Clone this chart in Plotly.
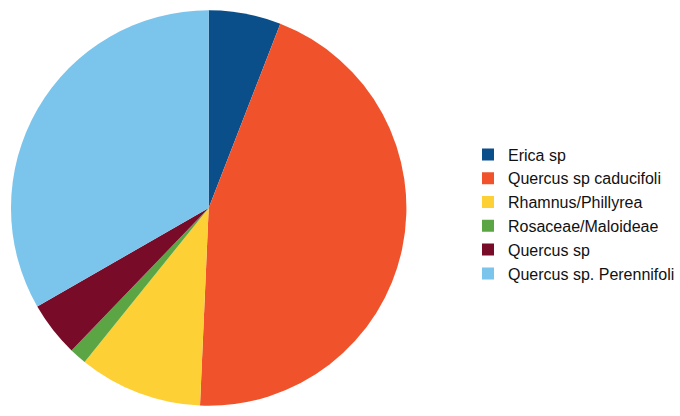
import plotly.graph_objects as go

# Share of each taxon (percent)
taxa = [
    "Erica sp",
    "Quercus sp caducifoli",
    "Rhamnus/Phillyrea",
    "Rosaceae/Maloideae",
    "Quercus sp",
    "Quercus sp. Perennifoli",
]
shares = [5.9, 44.8, 10.1, 1.4, 4.5, 33.3]
slice_colors = ["#0A4F8A", "#F0532C", "#FDD036", "#5BA545", "#780C28", "#7BC4EC"]

W, H = 680, 416
cx, cy, r = 209, 208, 198

fig = go.Figure(
    go.Pie(
        labels=taxa,
        values=shares,
        sort=False,
        direction="clockwise",
        rotation=0,
        textinfo="none",
        hoverinfo="label+percent",
        marker=dict(colors=slice_colors, line=dict(width=0)),
        domain=dict(
            x=[(cx - r) / W, (cx + r) / W],
            y=[(H - cy - r) / H, (H - cy + r) / H],
        ),
    )
)

fig.update_layout(
    width=W,
    height=H,
    margin=dict(l=0, r=0, t=0, b=0),
    paper_bgcolor="white",
    plot_bgcolor="white",
    showlegend=True,
    legend=dict(
        x=469 / W,
        xanchor="left",
        y=1 - 214 / H,
        yanchor="middle",
        font=dict(family="Liberation Sans, Arial, sans-serif", size=16, color="#111111"),
        bgcolor="rgba(0,0,0,0)",
        borderwidth=0,
    ),
)

fig.write_html("out.html")
